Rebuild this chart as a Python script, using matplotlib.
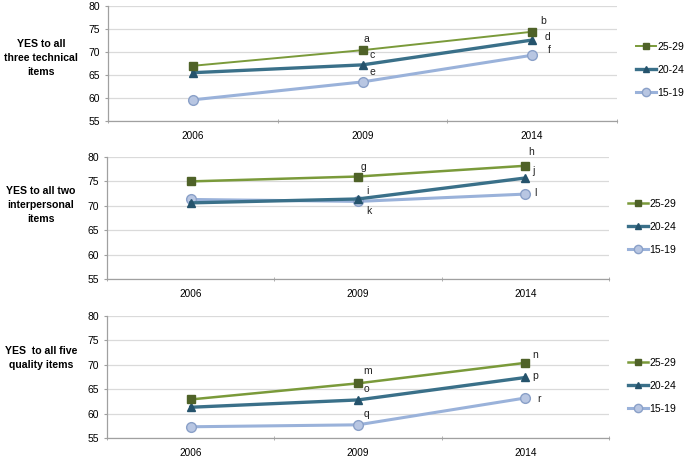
import matplotlib
matplotlib.use("Agg")
import matplotlib.pyplot as plt
import numpy as np

plt.rcParams["font.family"] = ["Liberation Sans", "DejaVu Sans"]

YEARS = ["2006", "2009", "2014"]
GROUPS = ["25-29", "20-24", "15-19"]

PANEL_TITLES = [
    "YES to all\nthree technical\nitems",
    "YES to all two\ninterpersonal\nitems",
    "YES  to all five\nquality items",
]

# values per panel, one list per age group
TECH_25_29 = [67.0, 70.4, 74.4]
TECH_20_24 = [65.5, 67.2, 72.6]
TECH_15_19 = [59.6, 63.5, 69.3]

INTER_25_29 = [75.0, 76.0, 78.2]
INTER_20_24 = [70.6, 71.4, 75.7]
INTER_15_19 = [71.3, 70.9, 72.4]

QUAL_25_29 = [62.9, 66.2, 70.4]
QUAL_20_24 = [61.3, 62.8, 67.4]
QUAL_15_19 = [57.3, 57.7, 63.2]

# letter labels per group and year (None = unlabeled)
TECH_LETTERS = [[None, "a", "b"], [None, "c", "d"], [None, "e", "f"]]
INTER_LETTERS = [[None, "g", "h"], [None, "i", "j"], [None, "k", "l"]]
QUAL_LETTERS = [[None, "m", "n"], [None, "o", "p"], [None, "q", "r"]]

# letter offsets from their marker, in points
LETTER_OFFSETS = {
    "a": (3, 8), "b": (8, 8), "c": (7, 7), "d": (11, 2), "e": (7, 7), "f": (12, 4),
    "g": (4, 7), "h": (4, 10), "i": (7, 6), "j": (6, 5), "k": (8, -7), "l": (7, 1),
    "m": (7, 9), "n": (7, 6), "o": (6, 8), "p": (7, 1), "q": (6, 8), "r": (10, -1),
}

LINE_COLORS = ["#7A9A3A", "#3A7089", "#9AB2DA"]
MARKER_FACE = ["#4F6228", "#25536C", "#B8C6E2"]
MARKER_EDGE = ["#4F6228", "#25536C", "#8AA0C8"]
MARKERS = ["s", "^", "o"]
MSIZES = [5.5, 5.5, 7]
LWIDTHS = [1.8, 2.4, 2.2]

panels = [
    ([TECH_25_29, TECH_20_24, TECH_15_19], TECH_LETTERS),
    ([INTER_25_29, INTER_20_24, INTER_15_19], INTER_LETTERS),
    ([QUAL_25_29, QUAL_20_24, QUAL_15_19], QUAL_LETTERS),
]

W, H = 691, 457
fig = plt.figure(figsize=(W / 100, H / 100), dpi=100)

# layout in pixels: axes (left, right, top, bottom), title centre y, legend (x, first-entry y)
boxes = [(108, 617, 6, 121), (107, 609, 157, 279), (107, 609, 316, 438)]
title_y = [58, 205, 358]
legend_pos = [(636, 49), (628, 206), (628, 365)]

x = np.arange(len(YEARS))
for k, ((series, letters), title) in enumerate(zip(panels, PANEL_TITLES)):
    left, right, top, bot = boxes[k]
    ax = fig.add_axes([left / W, 1 - bot / H, (right - left) / W, (bot - top) / H])
    handles = []
    for i, vals in enumerate(series):
        lw = LWIDTHS[i] - (0.4 if (k == 0 and i == 0) else 0)
        h, = ax.plot(x, vals, color=LINE_COLORS[i], lw=lw, marker=MARKERS[i],
                     ms=MSIZES[i], mfc=MARKER_FACE[i], mec=MARKER_EDGE[i], mew=1.0,
                     label=GROUPS[i], zorder=3 + (2 - i), clip_on=False)
        handles.append(h)
        for j, lab in enumerate(letters[i]):
            if lab:
                ax.annotate(lab, (x[j], vals[j]), xytext=LETTER_OFFSETS[lab],
                            textcoords="offset points", ha="center", va="center",
                            fontsize=7.5, color="#222222", zorder=10)
    ax.set_xlim(-0.5, 2.5)
    ax.set_ylim(55, 80)
    ax.set_yticks([55, 60, 65, 70, 75, 80])
    ax.set_xticks(x)
    ax.set_xticklabels(YEARS)
    ax.set_xticks([-0.5, 0.5, 1.5, 2.5], minor=True)
    ax.tick_params(axis="x", which="major", length=0, labelsize=7.2, pad=7.5)
    ax.tick_params(axis="x", which="minor", length=3, direction="inout", color="#A0A0A0")
    ax.tick_params(axis="y", length=2, labelsize=7.5, color="#A0A0A0", pad=4)
    ax.grid(axis="y", color="#DADADA", lw=0.9)
    ax.set_axisbelow(True)
    for s in ("top", "right"):
        ax.spines[s].set_visible(False)
    for s in ("left", "bottom"):
        ax.spines[s].set_color("#A0A0A0")
        ax.spines[s].set_linewidth(0.9)
    fig.text(41 / W, 1 - title_y[k] / H, title, ha="center", va="center",
             fontsize=7.6, fontweight="bold", linespacing=1.5)
    lx, ly = legend_pos[k]
    fig.legend(handles=handles, loc="upper left",
               bbox_to_anchor=(lx / W, 1 - (ly - 7) / H), frameon=False, fontsize=7.5,
               handlelength=1.9, handletextpad=0.15, labelspacing=1.25,
               borderaxespad=0, borderpad=0, markerscale=0.85)

fig.savefig("out.png", dpi=100)
